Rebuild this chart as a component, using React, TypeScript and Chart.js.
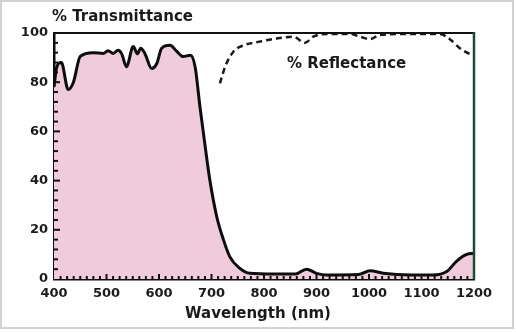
import React, { useEffect, useRef } from "react";
import { Chart, registerables } from "chart.js";

Chart.register(...registerables);

const transWavelengths = [400, 405, 414, 427, 437, 450, 475, 494, 503, 513, 522, 529, 538, 551, 559, 565, 573, 586, 596, 605, 621, 634, 646, 660, 669, 678, 688, 697, 710, 723, 735, 754, 773, 820, 860, 881, 900, 919, 980, 1002, 1027, 1080, 1122, 1148, 1167, 1186, 1200];
const transValues = [78, 86, 88, 77, 80, 90.5, 92, 91.7, 92.8, 91.7, 93, 91.5, 86.3, 94.5, 91.5, 93.8, 91.7, 85.6, 87.7, 93.8, 95, 92.5, 90.4, 91, 86, 70, 53.8, 40, 25.3, 15.8, 9, 4.3, 2.3, 2, 2, 4, 2.3, 1.6, 1.8, 3.4, 2.3, 1.6, 1.6, 3, 7.3, 10, 10.4];

const reflWavelengths = [716, 726, 742, 761, 792, 824, 856, 878, 894, 919, 964, 983, 1002, 1021, 1078, 1135, 1154, 1173, 1192, 1200];
const reflValues = [79.5, 86.3, 92.5, 95, 96.5, 97.8, 98.5, 96, 98.5, 99.6, 99.6, 98.5, 97.5, 99.2, 99.6, 99.6, 97.5, 93.8, 91.5, 91];

const xTickValues = [400, 500, 600, 700, 800, 900, 1000, 1100, 1200];
const yTickValues = [0, 20, 40, 60, 80, 100];

const FONT = "'DejaVu Sans', 'Liberation Sans', Arial, sans-serif";

const decorPlugin = {
  id: "decor",
  beforeDraw(chart: any) {
    const ctx = chart.ctx;
    ctx.save();
    ctx.fillStyle = "#ffffff";
    ctx.fillRect(0, 0, chart.width, chart.height);
    ctx.strokeStyle = "#d2d2d2";
    ctx.lineWidth = 2;
    ctx.strokeRect(1, 1, 512, 327);
    ctx.restore();
  },
  afterDraw(chart: any) {
    const ctx = chart.ctx;
    const a = chart.chartArea;
    const xs = chart.scales.x;
    const ys = chart.scales.y;
    ctx.save();
    ctx.strokeStyle = "#111";
    ctx.lineWidth = 2;
    ctx.beginPath();
    ctx.moveTo(a.left, a.top);
    ctx.lineTo(a.right, a.top);
    ctx.stroke();
    ctx.strokeStyle = "#1f4a36";
    ctx.lineWidth = 2.5;
    ctx.beginPath();
    ctx.moveTo(a.right, a.top - 1);
    ctx.lineTo(a.right, a.bottom);
    ctx.stroke();
    ctx.strokeStyle = "#111";
    ctx.lineWidth = 2;
    for (let v = 4; v < 100; v += 4) {
      const y = ys.getPixelForValue(v);
      const len = v % 20 === 0 ? 6 : 4;
      ctx.beginPath();
      ctx.moveTo(a.left, y);
      ctx.lineTo(a.left + len, y);
      ctx.stroke();
    }
    for (let w = 412.5; w < 1200; w += 12.5) {
      const x = xs.getPixelForValue(w);
      const len = w % 100 === 0 ? 5 : 3;
      ctx.beginPath();
      ctx.moveTo(x, a.bottom);
      ctx.lineTo(x, a.bottom - len);
      ctx.stroke();
    }
    ctx.fillStyle = "#1a1a1a";
    ctx.font = `bold 15px ${FONT}`;
    ctx.textBaseline = "alphabetic";
    ctx.textAlign = "left";
    ctx.fillText("% Transmittance", 52, 21);
    ctx.fillText("% Reflectance", 287, 68);
    ctx.textAlign = "center";
    ctx.fillText("Wavelength (nm)", 258, 318);
    ctx.restore();
  },
};

export default function App() {
  const ref = useRef<HTMLCanvasElement>(null);
  useEffect(() => {
    if (!ref.current) return;
    const chart = new Chart(ref.current, {
      type: "line",
      data: {
        datasets: [
          {
            label: "% Transmittance",
            data: transWavelengths.map((w, i) => ({ x: w, y: transValues[i] })),
            borderColor: "#0d0d0d",
            borderWidth: 3,
            backgroundColor: "#efcbdb",
            fill: "origin",
            pointRadius: 0,
            cubicInterpolationMode: "monotone",
          },
          {
            label: "% Reflectance",
            data: reflWavelengths.map((w, i) => ({ x: w, y: reflValues[i] })),
            borderColor: "#1a1a1a",
            borderWidth: 2.5,
            borderDash: [6, 4],
            fill: false,
            pointRadius: 0,
            cubicInterpolationMode: "monotone",
          },
        ],
      },
      options: {
        animation: false,
        responsive: false,
        layout: { padding: { left: 0, top: 33, right: 42, bottom: 0 } },
        plugins: { legend: { display: false }, tooltip: { enabled: false }, title: { display: false } },
        scales: {
          x: {
            type: "linear",
            min: 400,
            max: 1200,
            afterBuildTicks: (s: any) => {
              s.ticks = xTickValues.map((v) => ({ value: v }));
            },
            afterFit: (s: any) => {
              s.height = 53;
            },
            grid: { display: true, drawOnChartArea: false, drawTicks: false },
            border: { display: true, color: "#0d0d0d", width: 2.5 },
            ticks: {
              padding: 7,
              color: "#1a1a1a",
              font: { family: FONT, size: 13, weight: "bold" },
              maxRotation: 0,
              autoSkip: false,
              callback: (v: any) => String(v),
            },
          },
          y: {
            type: "linear",
            min: 0,
            max: 100,
            afterBuildTicks: (s: any) => {
              s.ticks = yTickValues.map((v) => ({ value: v }));
            },
            afterFit: (s: any) => {
              s.width = 54;
            },
            grid: { display: true, drawOnChartArea: false, drawTicks: false },
            border: { display: true, color: "#0d0d0d", width: 2.5 },
            ticks: {
              padding: 6,
              color: "#1a1a1a",
              font: { family: FONT, size: 13, weight: "bold" },
              callback: (v: any) => String(v),
            },
          },
        },
      },
      plugins: [decorPlugin],
    } as any);
    return () => chart.destroy();
  }, []);
  return (
    <div style={{ position: "fixed", left: 0, top: 0, width: 516, height: 332, background: "#fff" }}>
      <canvas ref={ref} width={516} height={332} style={{ display: "block" }} />
    </div>
  );
}
